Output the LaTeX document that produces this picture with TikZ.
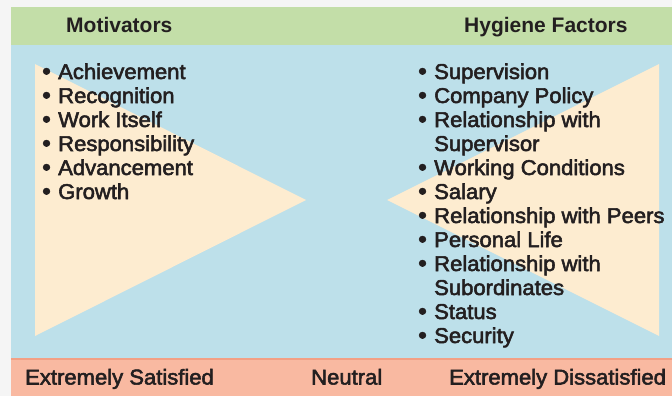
\documentclass[tikz,border=0pt]{standalone}
\usepackage{fontspec}
\setmainfont{Liberation Sans}
\newfontfamily\medfont{Liberation Sans}[FakeBold=2.5,FakeStretch=1.03]
\definecolor{pagebg}{HTML}{F5F5F5}
\definecolor{greenband}{HTML}{C3DEA8}
\definecolor{blueband}{HTML}{BDE0EA}
\definecolor{tri}{HTML}{FDECD0}
\definecolor{salmon}{HTML}{F9B9A1}
\definecolor{salmonedge}{HTML}{F3A085}
\definecolor{ink}{HTML}{231F20}
\newcommand{\bul}{\makebox[16pt][l]{\raisebox{-0.3pt}{\fontsize{24}{24}\selectfont•}}}
\begin{document}
\begin{tikzpicture}[x=1pt,y=-1pt,
  txt/.style={inner sep=0pt,anchor=base west,text=ink,font=\medfont\fontsize{21.4}{24}\selectfont},
  head/.style={inner sep=0pt,anchor=base west,text=ink,font=\bfseries\fontsize{21}{24}\selectfont}]
\useasboundingbox (0,0) rectangle (672,396);
\fill[pagebg] (0,0) rectangle (672,396);
\fill[greenband] (11,7) rectangle (672,45.5);
\fill[blueband] (11,45.5) rectangle (672,358);
\fill[salmon] (11,358) rectangle (672,396);
\draw[salmonedge,line width=2pt] (11,359) -- (672,359);
% triangles
\fill[tri] (35,64) -- (306,200) -- (35,336) -- cycle;
\fill[tri] (659,64) -- (387,200) -- (659,336) -- cycle;
% headers
\node[head] (hm) at (66,32.3) {Motivators};
\node[head] (hh) at (464,32.3) {Hygiene Factors};
% left list
\foreach \t [count=\i from 0] in {Achievement,Recognition,Work Itself,Responsibility,Advancement,Growth}
  \node[txt] (l\i) at (42,79+24*\i) {\bul\t};
% right list
\foreach \t/\b [count=\i from 0] in {Supervision/1,Company Policy/1,Relationship with/1,Supervisor/0,Working Conditions/1,Salary/1,Relationship with Peers/1,Personal Life/1,Relationship with/1,Subordinates/0,Status/1,Security/1}
  {\ifnum\b=1
     \node[txt] (r\i) at (418,79+24*\i) {\bul\t};
   \else
     \node[txt] (r\i) at (434,79+24*\i) {\t};
   \fi}
% bottom scale
\node[txt] (es) at (25,384.5) {Extremely Satisfied};
\node[txt] (ne) at (311,384.5) {Neutral};
\node[txt] (ed) at (449,384.5) {Extremely Dissatisfied};
\end{tikzpicture}
\end{document}
